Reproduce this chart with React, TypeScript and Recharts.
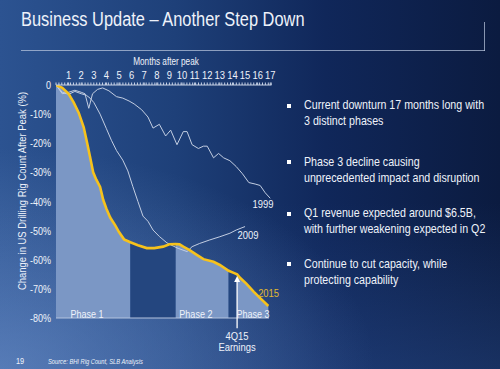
import React from 'react';
import { ComposedChart, Line, Area, XAxis, YAxis, ReferenceLine, ReferenceDot } from 'recharts';

// ---------- data ----------
const monthTicks = [1, 2, 3, 4, 5, 6, 7, 8, 9, 10, 11, 12, 13, 14, 15, 16, 17];
const pctTicks = [0, -10, -20, -30, -40, -50, -60, -70, -80];
const pctLabels = ['0', '-10%', '-20%', '-30%', '-40%', '-50%', '-60%', '-70%', '-80%'];

const months2015 = [0, 0.5, 1.0, 1.4, 1.8, 2.2, 2.45, 2.7, 2.95, 3.2, 3.5, 3.75, 4.0, 4.3, 4.7, 5.0, 5.4, 5.9, 6.5, 7.2, 7.8, 8.5, 9.0, 9.5, 9.8, 10.1, 10.6, 11.2, 11.7, 12.5, 13.0, 13.7, 14.1, 14.37, 14.6, 15.1, 15.7, 16.2, 16.85];
const values2015 = [0, -1, -3, -6, -9.5, -14.5, -19.5, -24.6, -30, -32.5, -35, -39.5, -42.5, -45.5, -48.2, -50.5, -53, -54, -55, -56, -56, -55.5, -54.7, -54.6, -54.7, -55.5, -56.7, -58.4, -59.8, -60.7, -61.8, -63.8, -64.5, -65.0, -66.2, -68.2, -71, -73.2, -75.9];

const months1999 = [0, 0.5, 1, 1.5, 2, 2.3, 2.6, 2.9, 3.3, 3.7, 4.2, 4.8, 5.3, 5.8, 6.2, 6.8, 7.3, 7.7, 8.2, 8.7, 9.1, 9.6, 10.1, 10.4, 10.8, 11.3, 11.7, 12.0, 12.5, 12.9, 13.3, 13.8, 14.3, 14.8, 15.3, 15.8, 16.2, 16.6, 17];
const values1999 = [0, -3, -2.5, -1.8, -2.5, -3, -8, -3, -1.5, -1, -2, -4, -4.5, -5.5, -6.5, -8.5, -11, -14.8, -13.5, -17.5, -15.5, -20.5, -16, -16, -20.5, -21.8, -21, -21, -25, -23.5, -25, -26, -28, -30.5, -33.5, -34, -34.5, -37, -38.9];

const months2009 = [0, 0.5, 1, 1.5, 2, 2.4, 2.7, 3.0, 3.5, 4.0, 4.4, 4.8, 5.3, 5.7, 6.1, 6.5, 6.9, 7.3, 7.7, 8.2, 8.8, 9.3, 9.7, 10.4, 10.8, 11.4, 12.2, 13.0, 13.8, 14.3, 15.0];
const values2009 = [0, -2.5, -3.2, -2.2, -3, -3.5, -4.5, -6, -10, -15, -19, -22.5, -25.8, -29.5, -34.9, -40, -45, -46.8, -49.8, -52, -54.2, -55.3, -56.1, -57.2, -55.5, -54.4, -53.2, -52.1, -50.9, -49.8, -48.6];

// phase boundaries (months) and labels
const segmentBounds = [0, 5.9, 9.5, 13.7, 14.37, 16.85];
const segmentIsPhase = [true, false, true, false, true];
const phaseNames = ['Phase 1', 'Phase 2', 'Phase 3'];
const phaseLabelMonths = [2.46, 11.1, 15.63];
const phaseLabelValue = -78.6;

const earningsMonth = 14.37;

const bullets = [
  ['Current downturn 17 months long with', '3 distinct phases'],
  ['Phase 3 decline causing', 'unprecedented impact and disruption'],
  ['Q1 revenue expected around $6.5B,', 'with further weakening expected in Q2'],
  ['Continue to cut capacity, while', 'protecting capability'],
];

// ---------- derived tables ----------
const toRows = (ms: number[], vs: number[]) => ms.map((m, i) => ({ m, v: vs[i] }));
const rows2015 = toRows(months2015, values2015);
const rows1999 = toRows(months1999, values1999);
const rows2009 = toRows(months2009, values2009);
const segments = segmentIsPhase.map((isPhase, i) => ({
  isPhase,
  rows: rows2015.filter((r) => r.m >= segmentBounds[i] - 1e-9 && r.m <= segmentBounds[i + 1] + 1e-9),
}));
const weekTicks = Array.from({ length: 75 }, (_, i) => Math.round((i * 12 / 52) * 1000) / 1000).filter(
  (w) => w <= 17.1 && monthTicks.every((mt) => Math.abs(mt - w) > 0.02)
);
const allXTicks = [...weekTicks, ...monthTicks].sort((a, b) => a - b);

// ---------- style ----------
const FONT = '"Liberation Sans", Arial, sans-serif';
const NARROW = 0.82;
const textColor = '#eef2fa';
const axisColor = '#c9d3e6';
const yellow = '#f6c21c';
const thinLine = '#c3cee2';
const phaseFill = '#7b97c5';
const gapFill = '#24467f';

const XTick = (props: any) => {
  const { x, y, payload } = props;
  const v = payload.value;
  const isMonth = monthTicks.includes(v);
  return (
    <g>
      <line x1={x} x2={x} y1={y} y2={y - 2.5} stroke={axisColor} strokeWidth={1} />
      {isMonth && (
        <text
          transform={`translate(${x},${y - 6}) scale(${NARROW},1)`}
          textAnchor="middle"
          fill={textColor}
          fontSize={11.5}
          fontFamily={FONT}
        >
          {v}
        </text>
      )}
    </g>
  );
};

const YTick = (props: any) => {
  const { x, y, payload } = props;
  const idx = pctTicks.indexOf(payload.value);
  return (
    <text
      transform={`translate(${x},${y + 4}) scale(${NARROW},1)`}
      textAnchor="end"
      fill={textColor}
      fontSize={11}
      fontFamily={FONT}
    >
      {pctLabels[idx]}
    </text>
  );
};

const textShape = (label: string, color: string, size: number) => (p: any) => (
  <text
    transform={`translate(${p.cx},${p.cy + size * 0.36}) scale(${NARROW},1)`}
    textAnchor="middle"
    fill={color}
    fontSize={size}
    fontFamily={FONT}
  >
    {label}
  </text>
);

const arrowHead = (p: any) => (
  <polygon points={`${p.cx},${p.cy} ${p.cx - 3},${p.cy + 6} ${p.cx + 3},${p.cy + 6}`} fill="#ffffff" />
);

const T = (props: { x: number; y: number; size: number; center?: boolean; italic?: boolean; children: React.ReactNode; color?: string; lh?: number }) => (
  <div
    style={{
      position: 'absolute',
      left: props.x,
      top: props.y,
      fontSize: props.size,
      lineHeight: `${props.lh ?? props.size}px`,
      fontStyle: props.italic ? 'italic' : 'normal',
      color: props.color ?? textColor,
      whiteSpace: 'nowrap',
      transformOrigin: props.center ? 'center' : 'left top',
      transform: props.center ? `translateX(-50%) scaleX(${NARROW})` : `scaleX(${NARROW})`,
    }}
  >
    {props.children}
  </div>
);

export default function App() {
  const bg =
    'radial-gradient(ellipse 75% 60% at 0% 100%, rgba(120,155,210,0.55), rgba(120,155,210,0) 100%),' +
    'linear-gradient(to top, rgba(50,90,160,0.35), rgba(50,90,160,0) 45%),' +
    'linear-gradient(to right, #2c5391 0%, #1e4079 35%, #10275a 65%, #0b1b40 100%)';
  return (
    <div
      style={{
        position: 'fixed',
        left: 0,
        top: 0,
        width: 500,
        height: 369,
        overflow: 'hidden',
        background: bg,
        fontFamily: FONT,
      }}
    >
      <T x={21} y={9} size={20}>Business Update – Another Step Down</T>
      <div style={{ position: 'absolute', left: 21, top: 50, width: 464, height: 1, background: 'rgba(190,202,225,0.7)' }} />
      <div style={{ position: 'absolute', left: 484, top: 22, width: 1, height: 29, background: 'rgba(190,202,225,0.7)' }} />

      <T x={166} y={57} size={10} center>Months after peak</T>

      <div
        style={{
          position: 'absolute',
          left: 22,
          top: 191,
          fontSize: 11.5,
          lineHeight: '12px',
          color: textColor,
          whiteSpace: 'nowrap',
          transform: `translate(-50%,-50%) rotate(-90deg) scaleX(${NARROW})`,
        }}
      >
        Change in US Drilling Rig Count After Peak (%)
      </div>

      <div style={{ position: 'absolute', left: 0, top: 0 }}>
        <ComposedChart width={500} height={369} margin={{ top: 65, right: 228.5, bottom: 51, left: 16 }}>
          <XAxis
            xAxisId={0}
            type="number"
            dataKey="m"
            orientation="top"
            domain={[0, 17.1]}
            allowDataOverflow
            ticks={allXTicks}
            interval={0}
            height={20}
            tickSize={0}
            tickMargin={0}
            tickLine={false}
            axisLine={{ stroke: axisColor, strokeWidth: 1 }}
            tick={<XTick />}
          />
          <YAxis
            type="number"
            domain={[-80, 0]}
            allowDataOverflow
            ticks={pctTicks}
            interval={0}
            width={40}
            tickLine={false}
            tickSize={0}
            tickMargin={5}
            axisLine={false}
            tick={<YTick />}
          />
          {segments.map((s, i) => (
            <Area
              key={`seg${i}`}
              data={s.rows}
              dataKey="v"
              type="linear"
              baseValue={-80}
              stroke="none"
              fill={s.isPhase ? phaseFill : gapFill}
              fillOpacity={1}
              isAnimationActive={false}
              dot={false}
              activeDot={false}
            />
          ))}
          <ReferenceLine
            segment={[{ x: 0, y: -80 }, { x: 16.9, y: -80 }]}
            stroke="#b4c3de"
            strokeWidth={1}
            ifOverflow="visible"
          />
          <Line data={rows1999} dataKey="v" type="linear" stroke={thinLine} strokeWidth={1} dot={false} activeDot={false} isAnimationActive={false} />
          <Line data={rows2009} dataKey="v" type="linear" stroke={thinLine} strokeWidth={1} dot={false} activeDot={false} isAnimationActive={false} />
          <Line data={rows2015} dataKey="v" type="linear" stroke={yellow} strokeWidth={2.6} dot={false} activeDot={false} isAnimationActive={false} />
          <ReferenceLine
            segment={[{ x: earningsMonth, y: -67.2 }, { x: earningsMonth, y: -83.5 }]}
            stroke="#ffffff"
            strokeWidth={1.3}
            ifOverflow="visible"
          />
          <ReferenceDot x={earningsMonth} y={-65.6} r={3} shape={arrowHead} ifOverflow="visible" />
          {phaseNames.map((n, i) => (
            <ReferenceDot key={n} x={phaseLabelMonths[i]} y={phaseLabelValue} r={1} shape={textShape(n, textColor, 11)} ifOverflow="visible" />
          ))}
          <ReferenceDot x={16.43} y={-40.9} r={1} shape={textShape('1999', textColor, 11.5)} ifOverflow="visible" />
          <ReferenceDot x={15.24} y={-51.5} r={1} shape={textShape('2009', textColor, 11.5)} ifOverflow="visible" />
          <ReferenceDot x={16.87} y={-71.4} r={1} shape={textShape('2015', '#e0b830', 11.5)} ifOverflow="visible" />
        </ComposedChart>
      </div>

      <T x={237} y={330.5} size={11.5} center>4Q15</T>
      <T x={237} y={341.5} size={11.5} center>Earnings</T>

      {bullets.map((b, i) => {
        const tops = [97.2, 153.9, 205.2, 255.5];
        return (
          <React.Fragment key={i}>
            <div style={{ position: 'absolute', left: 287, top: tops[i] + 6.5, width: 4, height: 4, background: '#ffffff' }} />
            <T x={304} y={tops[i]} size={13} lh={16.3}>
              {b[0]}
              <br />
              {b[1]}
            </T>
          </React.Fragment>
        );
      })}

      <T x={16} y={356.6} size={9}>19</T>
      <T x={48} y={358} size={7} italic>Source: BHI Rig Count, SLB Analysis</T>
    </div>
  );
}
